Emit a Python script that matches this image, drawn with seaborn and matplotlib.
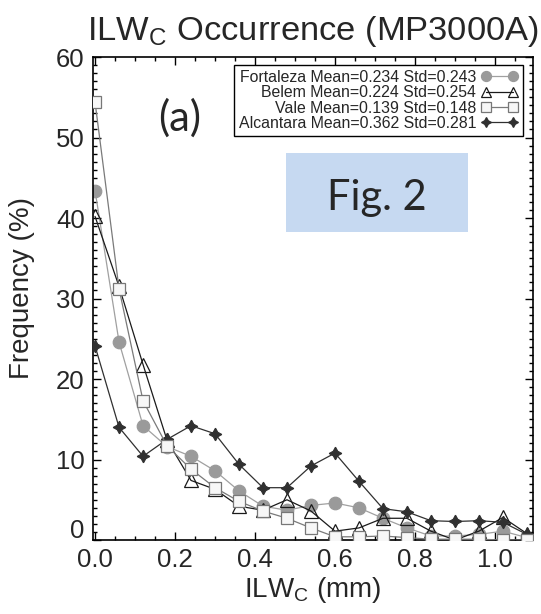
import matplotlib
matplotlib.use("Agg")
import matplotlib.pyplot as plt
import matplotlib.transforms as mtransforms
import seaborn as sns
from matplotlib.ticker import MultipleLocator
from matplotlib.patches import Rectangle

ilwc = [0.00, 0.06, 0.12, 0.18, 0.24, 0.30, 0.36, 0.42, 0.48, 0.54,
        0.60, 0.66, 0.72, 0.78, 0.84, 0.90, 0.96, 1.02, 1.08]
fortaleza = [43.4, 24.6, 14.2, 11.6, 10.4, 8.6, 6.1, 4.2, 3.7, 4.3,
             4.6, 4.0, 2.7, 1.5, 0.5, 0.5, 0.7, 1.1, 0.3]
belem = [40.2, 31.5, 21.8, 12.4, 7.4, 6.3, 4.2, 3.7, 5.0, 3.6,
         1.1, 1.5, 2.7, 2.7, 1.1, 0.0, 1.1, 2.8, 0.8]
vale = [54.4, 31.2, 17.3, 11.7, 8.8, 6.5, 4.8, 3.6, 2.7, 1.5,
        0.4, 0.4, 0.5, 0.3, 0.1, 0.1, 0.1, 0.0, 0.0]
alcantara = [24.1, 14.0, 10.4, 12.5, 14.2, 13.2, 9.4, 6.5, 6.5, 9.2,
             10.8, 7.3, 3.9, 3.5, 2.4, 2.3, 2.4, 2.2, 0.7]
labels = ["Fortaleza Mean=0.234 Std=0.243",
          "Belem Mean=0.224 Std=0.254",
          "Vale Mean=0.139 Std=0.148",
          "Alcantara Mean=0.362 Std=0.281"]
xticks = [0.0, 0.2, 0.4, 0.6, 0.8, 1.0]
xticklabels = ["0.0", "0.2", "0.4", "0.6", "0.8", "1.0"]
yticks = [0, 10, 20, 30, 40, 50, 60]

sns.set_style("ticks")
plt.rcParams["font.family"] = ["Liberation Sans", "DejaVu Sans"]
plt.rcParams["mathtext.fontset"] = "custom"
plt.rcParams["mathtext.rm"] = "Liberation Sans"

fig = plt.figure(figsize=(5.41, 6.14), dpi=100)
ax = fig.add_axes([0.172, 0.1205, 0.813, 0.7866])

star = (4, 1, 0)
styles = [
    dict(data=fortaleza, label=labels[0], color="#a0a0a0", marker="o", ms=9,
         mfc="#9a9a9a", mec="#9a9a9a", z=2),
    dict(data=belem, label=labels[1], color="#1a1a1a", marker="^", ms=9.5,
         mfc="none", mec="#1a1a1a", z=3),
    dict(data=alcantara, label=labels[3], color="#303030", marker=star, ms=9,
         mfc="#303030", mec="#303030", z=4),
    dict(data=vale, label=labels[2], color="#7a7a7a", marker="s", ms=9,
         mfc="#f7f7f7", mec="#777777", z=5),
]
for s in styles:
    sns.lineplot(x=ilwc, y=s["data"], ax=ax, color=s["color"], lw=0.9,
                 marker=s["marker"], markersize=s["ms"],
                 markerfacecolor=s["mfc"], markeredgecolor=s["mec"],
                 markeredgewidth=0.9, zorder=s["z"], label=s["label"])
handles_list, labels_list = ax.get_legend_handles_labels()
order = [labels_list.index(l) for l in labels]
leg = ax.legend([handles_list[i] for i in order], [labels_list[i] for i in order],
                loc="upper right", bbox_to_anchor=(0.977, 0.983), borderaxespad=0,
                markerfirst=False, fontsize=11.4, handlelength=2.3, numpoints=2,
                markerscale=0.8,
                labelspacing=0.02, borderpad=0.3, handletextpad=0.35,
                fancybox=False, framealpha=1, edgecolor="black")
leg.get_frame().set_linewidth(1.0)
leg._legend_box.align = "right"
for t in leg.get_texts():
    t.set_ha("right")

ax.set_xlim(-0.005, 1.095)
ax.set_ylim(0, 60)
ax.set_xticks(xticks)
ax.set_xticklabels(xticklabels)
ax.set_yticks(yticks)
ax.xaxis.set_minor_locator(MultipleLocator(0.05))
ax.yaxis.set_minor_locator(MultipleLocator(1))
ax.tick_params(which="both", direction="in", top=True, right=True,
               labelsize=18.5, width=1.0, color="black")
ax.tick_params(which="major", length=5.5, pad=6)
ax.tick_params(which="minor", length=3)
for sp in ax.spines.values():
    sp.set_linewidth(1.2)
    sp.set_color("black")

ax.set_xlabel("ILW$_\\mathregular{C}$ (mm)", fontsize=20, labelpad=2)
ax.set_ylabel("Frequency (%)", fontsize=20)
ax.yaxis.set_label_coords((35 - 93) / 440, (540 - 288) / 483)
ax.set_title("ILW$_\\mathregular{C}$ Occurrence (MP3000A)", fontsize=24.8, pad=12)

fig.canvas.draw()
zero_tick = ax.yaxis.get_major_ticks()[0]
zero_tick.label1.set_transform(zero_tick.label1.get_transform() +
                               mtransforms.ScaledTranslation(0, 8 / 72, fig.dpi_scale_trans))

ax.text((180 - 93) / 440, (540 - 118) / 483, "(a)", transform=ax.transAxes,
        fontsize=30, family=["Lato", "DejaVu Sans"], ha="center", va="center")
ax.add_patch(Rectangle((286 / 541, (614 - 232) / 614), (468 - 286) / 541, 79 / 614,
                       transform=fig.transFigure, facecolor="#c6d9f1",
                       edgecolor="none", zorder=6))
fig.text(376.5 / 541, 1 - 210 / 614, "Fig. 2", fontsize=30,
         family=["Lato", "DejaVu Sans"], ha="center", va="baseline", zorder=7)

fig.savefig("out.png", dpi=100)
